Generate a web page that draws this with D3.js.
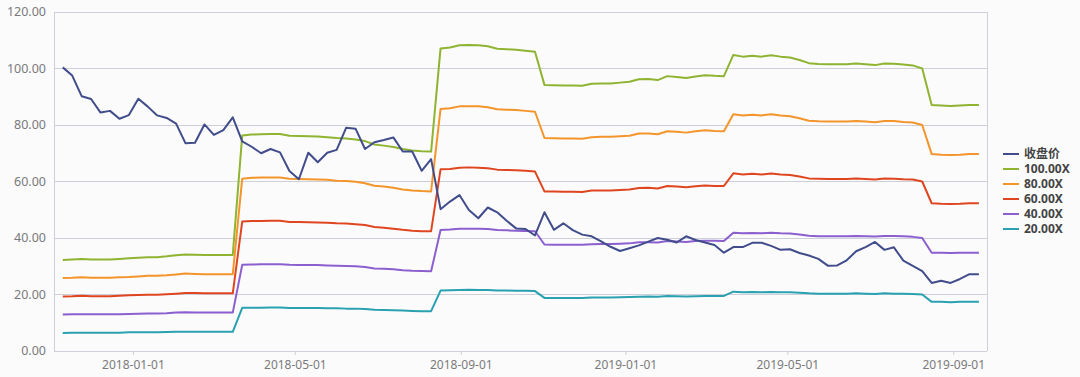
<!DOCTYPE html>
<html>
<head>
<meta charset="utf-8">
<script src="https://cdn.jsdelivr.net/npm/d3@7"></script>
<style>
  html, body { margin: 0; padding: 0; background: #fbfbfc; }
  svg { display: block; }
  text { font-family: "Noto Sans", "Noto Sans CJK SC", sans-serif; }
</style>
</head>
<body>
<svg id="chart" width="1080" height="377"></svg>
<script>
// weekly closes (Fridays), 2017-11-10 .. 2019-09-20
const dates = d3.timeFriday.range(new Date(2017, 10, 10), new Date(2019, 8, 21));

const close = [100.4, 97.5, 90.2, 89.2, 84.4, 85.0, 82.2, 83.5, 89.3, 86.5, 83.4, 82.5, 80.5, 73.5, 73.7, 80.2, 76.5, 78.2, 82.7, 74.2,
  72.3, 70.0, 71.5, 70.3, 63.7, 60.8, 70.2, 66.8, 70.2, 71.2, 79.0, 78.7, 71.5, 73.9, 74.7, 75.6, 70.6, 70.6, 63.8, 67.9,
  50.2, 52.9, 55.2, 49.9, 47.0, 50.8, 49.1, 46.1, 43.4, 43.2, 40.9, 49.1, 42.9, 45.2, 42.8, 41.2, 40.6, 38.8, 36.9, 35.4,
  36.4, 37.4, 38.7, 40.0, 39.4, 38.4, 40.6, 39.3, 38.4, 37.5, 34.8, 36.8, 36.8, 38.3, 38.3, 37.2, 35.8, 36.0, 34.7, 33.8,
  32.6, 30.2, 30.3, 32.1, 35.3, 36.8, 38.6, 35.8, 36.7, 32.0, 30.1, 28.3, 24.1, 24.9, 24.1, 25.5, 27.2, 27.2];

const pe100 = [32.2, 32.4, 32.6, 32.4, 32.4, 32.4, 32.6, 32.8, 33.0, 33.2, 33.2, 33.5, 33.9, 34.2, 34.1, 34.0, 34.0, 34.0, 34.0, 76.3,
  76.6, 76.7, 76.8, 76.8, 76.2, 76.1, 76.0, 75.9, 75.7, 75.4, 75.2, 74.9, 74.3, 73.1, 72.7, 72.2, 71.5, 71.0, 70.7, 70.6,
  107.1, 107.4, 108.2, 108.3, 108.2, 107.9, 107.0, 106.8, 106.6, 106.3, 105.9, 94.2, 94.1, 94.0, 94.0, 93.9, 94.6, 94.7, 94.7, 95.0,
  95.3, 96.2, 96.3, 95.9, 97.3, 97.0, 96.6, 97.2, 97.6, 97.4, 97.3, 104.8, 104.2, 104.5, 104.2, 104.7, 104.2, 103.9, 103.0, 101.9,
  101.6, 101.5, 101.5, 101.5, 101.8, 101.5, 101.2, 101.8, 101.7, 101.4, 101.1, 100.0, 87.1, 86.9, 86.7, 86.9, 87.1, 87.1];

const pe80 = [25.8, 25.9, 26.1, 25.9, 25.9, 25.9, 26.1, 26.2, 26.4, 26.6, 26.6, 26.8, 27.1, 27.4, 27.3, 27.2, 27.2, 27.2, 27.2, 61.0,
  61.3, 61.4, 61.4, 61.4, 61.0, 60.9, 60.8, 60.7, 60.6, 60.3, 60.2, 59.9, 59.4, 58.5, 58.2, 57.8, 57.2, 56.8, 56.6, 56.5,
  85.7, 85.9, 86.6, 86.6, 86.6, 86.3, 85.6, 85.4, 85.3, 85.0, 84.7, 75.4, 75.3, 75.2, 75.2, 75.1, 75.7, 75.8, 75.8, 76.0,
  76.2, 77.0, 77.0, 76.7, 77.8, 77.6, 77.3, 77.8, 78.1, 77.9, 77.8, 83.8, 83.4, 83.6, 83.4, 83.8, 83.4, 83.1, 82.4, 81.5,
  81.3, 81.2, 81.2, 81.2, 81.4, 81.2, 81.0, 81.4, 81.4, 81.1, 80.9, 80.0, 69.7, 69.5, 69.4, 69.5, 69.7, 69.7];

const pe60 = [19.3, 19.4, 19.6, 19.4, 19.4, 19.4, 19.6, 19.7, 19.8, 19.9, 19.9, 20.1, 20.3, 20.5, 20.5, 20.4, 20.4, 20.4, 20.4, 45.8,
  46.0, 46.0, 46.1, 46.1, 45.7, 45.7, 45.6, 45.5, 45.4, 45.2, 45.1, 44.9, 44.6, 43.9, 43.6, 43.3, 42.9, 42.6, 42.4, 42.4,
  64.3, 64.4, 64.9, 65.0, 64.9, 64.7, 64.2, 64.1, 64.0, 63.8, 63.5, 56.5, 56.5, 56.4, 56.4, 56.3, 56.8, 56.8, 56.8, 57.0,
  57.2, 57.7, 57.8, 57.5, 58.4, 58.2, 58.0, 58.3, 58.6, 58.4, 58.4, 62.9, 62.5, 62.7, 62.5, 62.8, 62.5, 62.3, 61.8, 61.1,
  61.0, 60.9, 60.9, 60.9, 61.1, 60.9, 60.7, 61.1, 61.0, 60.8, 60.7, 60.0, 52.3, 52.1, 52.0, 52.1, 52.3, 52.3];

const pe40 = [12.9, 13.0, 13.0, 13.0, 13.0, 13.0, 13.0, 13.1, 13.2, 13.3, 13.3, 13.4, 13.6, 13.7, 13.6, 13.6, 13.6, 13.6, 13.6, 30.5,
  30.6, 30.7, 30.7, 30.7, 30.5, 30.4, 30.4, 30.4, 30.3, 30.2, 30.1, 30.0, 29.7, 29.2, 29.1, 28.9, 28.6, 28.4, 28.3, 28.2,
  42.8, 43.0, 43.3, 43.3, 43.3, 43.2, 42.8, 42.7, 42.6, 42.5, 42.4, 37.7, 37.6, 37.6, 37.6, 37.6, 37.8, 37.9, 37.9, 38.0,
  38.1, 38.5, 38.5, 38.4, 38.9, 38.8, 38.6, 38.9, 39.0, 39.0, 38.9, 41.9, 41.7, 41.8, 41.7, 41.9, 41.7, 41.6, 41.2, 40.8,
  40.6, 40.6, 40.6, 40.6, 40.7, 40.6, 40.5, 40.7, 40.7, 40.6, 40.4, 40.0, 34.8, 34.8, 34.7, 34.8, 34.8, 34.8];

const pe20 = [6.4, 6.5, 6.5, 6.5, 6.5, 6.5, 6.5, 6.6, 6.6, 6.6, 6.6, 6.7, 6.8, 6.8, 6.8, 6.8, 6.8, 6.8, 6.8, 15.3,
  15.3, 15.3, 15.4, 15.4, 15.2, 15.2, 15.2, 15.2, 15.1, 15.1, 15.0, 15.0, 14.9, 14.6, 14.5, 14.4, 14.3, 14.2, 14.1, 14.1,
  21.4, 21.5, 21.6, 21.7, 21.6, 21.6, 21.4, 21.4, 21.3, 21.3, 21.2, 18.8, 18.8, 18.8, 18.8, 18.8, 18.9, 18.9, 18.9, 19.0,
  19.1, 19.2, 19.3, 19.2, 19.5, 19.4, 19.3, 19.4, 19.5, 19.5, 19.5, 21.0, 20.8, 20.9, 20.8, 20.9, 20.8, 20.8, 20.6, 20.4,
  20.3, 20.3, 20.3, 20.3, 20.4, 20.3, 20.2, 20.4, 20.3, 20.3, 20.2, 20.0, 17.4, 17.4, 17.3, 17.4, 17.4, 17.4];

const seriesNames = ["收盘价", "100.00X", "80.00X", "60.00X", "40.00X", "20.00X"];
const seriesValues = [close, pe100, pe80, pe60, pe40, pe20];
const colors = ["#414d8b", "#8fb431", "#f4952b", "#df4620", "#8c5fcf", "#2aa1b0"];

const yTicks = [0, 20, 40, 60, 80, 100, 120];
const xTicks = ["2018-01-01", "2018-05-01", "2018-09-01", "2019-01-01", "2019-05-01", "2019-09-01"];

const svg = d3.select("#chart");
const margin = { left: 54, right: 93, top: 12, bottom: 26 };
const width = 1080, height = 377;

const x = d3.scaleTime()
  .domain([new Date(2017, 10, 3, 12), new Date(2019, 8, 26)])
  .range([margin.left, width - margin.right]);
const y = d3.scaleLinear()
  .domain([0, 120])
  .range([height - margin.bottom, margin.top]);

const parse = d3.timeParse("%Y-%m-%d");

// grid
svg.append("g")
  .selectAll("line")
  .data(yTicks)
  .join("line")
  .attr("x1", margin.left).attr("x2", width - margin.right)
  .attr("y1", d => y(d)).attr("y2", d => y(d))
  .attr("stroke", "#cdd0d8").attr("stroke-width", 1)
  .attr("shape-rendering", "crispEdges");

// frame sides
[margin.left, width - margin.right].forEach(px => {
  svg.append("line")
    .attr("x1", px).attr("x2", px)
    .attr("y1", y(120)).attr("y2", y(0))
    .attr("stroke", "#cdd0d8")
    .attr("shape-rendering", "crispEdges");
});

// y labels
svg.append("g")
  .selectAll("text")
  .data(yTicks)
  .join("text")
  .attr("x", 46).attr("y", d => y(d))
  .attr("dy", "0.35em")
  .attr("text-anchor", "end")
  .attr("fill", "#7a7a7a")
  .attr("font-size", 12.5)
  .text(d => d3.format(".2f")(d));

// x axis
const xAxis = svg.append("g")
  .attr("transform", `translate(0,${y(0)})`)
  .call(d3.axisBottom(x).tickValues(xTicks.map(parse)).tickSize(4).tickFormat(d3.timeFormat("%Y-%m-%d")));
xAxis.select(".domain").remove();
xAxis.selectAll("line").attr("stroke", "#cdd0d8");
xAxis.selectAll("text")
  .attr("fill", "#7a7a7a")
  .attr("font-size", 12)
  .attr("font-family", "Noto Sans, sans-serif")
  .attr("dy", "0.9em");

// lines, draw bands first then close on top
const line = d3.line()
  .x((d, i) => x(dates[i]))
  .y(d => y(d));

const order = [1, 2, 3, 4, 5, 0];
order.forEach(k => {
  svg.append("path")
    .datum(seriesValues[k])
    .attr("d", line)
    .attr("fill", "none")
    .attr("stroke", colors[k])
    .attr("stroke-width", 2)
    .attr("stroke-linejoin", "round");
});

// legend
const legend = svg.append("g").attr("transform", "translate(1003,154)");
seriesNames.forEach((name, i) => {
  const row = legend.append("g").attr("transform", `translate(0,${i * 15})`);
  row.append("line")
    .attr("x1", 0).attr("x2", 16)
    .attr("stroke", colors[i]).attr("stroke-width", 2);
  row.append("text")
    .attr("x", 21).attr("dy", "0.35em")
    .attr("font-size", 12)
    .attr("font-weight", "bold")
    .attr("fill", "#444")
    .text(name);
});
</script>
</body>
</html>
